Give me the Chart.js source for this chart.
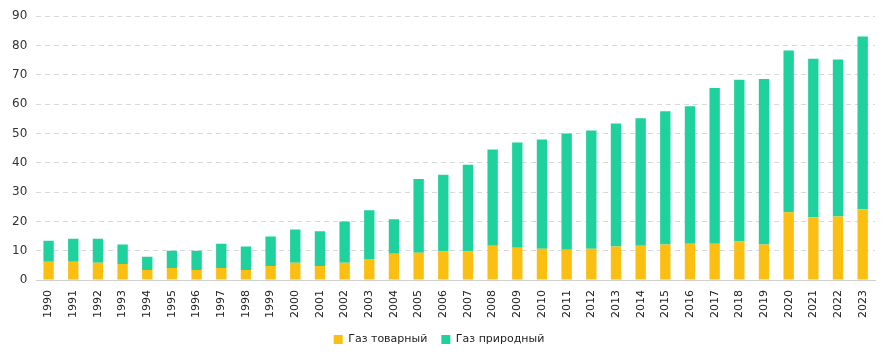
<!DOCTYPE html>
<html>
<head>
<meta charset="utf-8">
<script src="https://cdn.jsdelivr.net/npm/chart.js@4"></script>
<style>
    html, body { margin: 0; padding: 0; background: #ffffff; }
    #wrap { width: 896px; height: 362px; }
</style>
</head>
<body>
<div id="wrap"><canvas id="gasChart"></canvas></div>
<script>
const years = ['1990', '1991', '1992', '1993', '1994', '1995', '1996', '1997', '1998', '1999',
    '2000', '2001', '2002', '2003', '2004', '2005', '2006', '2007', '2008', '2009',
    '2010', '2011', '2012', '2013', '2014', '2015', '2016', '2017', '2018', '2019',
    '2020', '2021', '2022', '2023']

const commercialGas = [6.2, 6.2, 5.9, 5.5, 3.4, 4.1, 3.4, 4.1, 3.4, 4.8,
    5.9, 4.8, 5.9, 7.2, 9.0, 9.3, 9.7, 9.7, 11.7, 11.0,
    10.7, 10.3, 10.7, 11.4, 11.7, 12.1, 12.4, 12.4, 13.1, 12.1,
    23.1, 21.4, 21.7, 24.1]

const naturalGas = [7.2, 7.9, 8.2, 6.6, 4.5, 5.9, 6.6, 8.3, 8.0, 10.0,
    11.3, 11.8, 14.1, 16.6, 11.7, 25.2, 26.2, 29.6, 32.8, 35.9,
    37.2, 39.7, 40.3, 42.0, 43.5, 45.5, 46.9, 53.1, 55.2, 56.5,
    55.2, 54.1, 53.5, 59.0]

const yTicks = [0, 10, 20, 30, 40, 50, 60, 70, 80, 90]

const context = document.getElementById('gasChart').getContext('2d')

new Chart(context, {
    type: 'bar',
    data: {
        labels: years,
        datasets: [{
            label: 'Газ товарный',
            data: commercialGas,
            backgroundColor: '#fbbf12',
            barPercentage: 0.42,
            categoryPercentage: 1.0
        }, {
            label: 'Газ природный',
            data: naturalGas,
            backgroundColor: '#1fd19d',
            barPercentage: 0.42,
            categoryPercentage: 1.0
        }]
    },
    options: {
        responsive: true,
        maintainAspectRatio: false,
        animation: false,
        layout: {
            padding: { left: 3, right: 21, top: 14, bottom: 7 }
        },
        plugins: {
            legend: {
                position: 'bottom',
                labels: {
                    color: '#222222',
                    boxWidth: 9,
                    boxHeight: 9,
                    padding: 14,
                    font: { family: 'DejaVu Sans', size: 11 }
                }
            },
            tooltip: { enabled: false }
        },
        scales: {
            x: {
                stacked: true,
                grid: { display: false },
                border: { color: '#d0d0d0', width: 1 },
                ticks: {
                    color: '#222222',
                    maxRotation: 90,
                    minRotation: 90,
                    autoSkip: false,
                    padding: 2,
                    font: { family: 'DejaVu Sans', size: 11 }
                }
            },
            y: {
                stacked: true,
                min: 0,
                max: 90,
                afterBuildTicks: axis => { axis.ticks = yTicks.map(v => ({ value: v })) },
                grid: {
                    color: '#d9d9d9',
                    drawTicks: false
                },
                border: { display: false, dash: [5, 4] },
                ticks: {
                    color: '#333333',
                    padding: 9,
                    font: { family: 'DejaVu Sans', size: 12 }
                }
            }
        }
    }
});
</script>
</body>
</html>
